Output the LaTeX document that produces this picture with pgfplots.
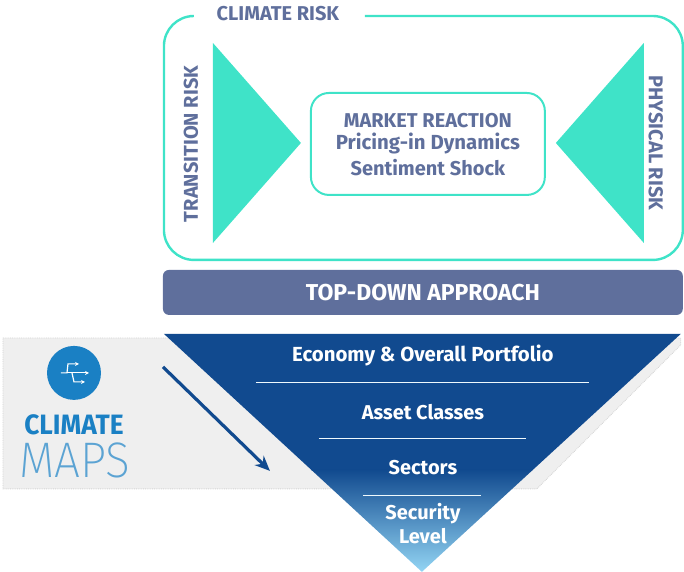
\documentclass[border=0pt]{standalone}
\usepackage{fontspec}
\setmainfont{Fira Sans}
\newfontfamily\lightf{Fira Sans ExtraLight}
\usepackage{pgfplots}
\pgfplotsset{compat=1.18}
\usetikzlibrary{arrows.meta}
\definecolor{teal1}{HTML}{3FE3C8}
\definecolor{slate}{HTML}{5F6F9C}
\definecolor{navy}{HTML}{114A8F}
\definecolor{band}{HTML}{EFEFEF}
\definecolor{bandedge}{HTML}{D4D4D4}
\definecolor{ball}{HTML}{1A80C4}
\definecolor{mapsc}{HTML}{5BA3D3}
\definecolor{lowtip}{HTML}{93D5F4}
\newcommand{\fs}[1]{\fontsize{#1}{#1}\selectfont}
\begin{document}
\begin{tikzpicture}
\begin{axis}[
    scale only axis,
    width=684pt,
    height=572pt,
    xmin=0, xmax=684,
    ymin=0, ymax=572,
    y dir=reverse,
    axis lines=none,
    clip=false,
    cycle list={{black}},
]
% keeps the page as large as the axis
\path (axis cs:0,0) rectangle (axis cs:684,572);
% climate risk frame, open at the title
\addplot[teal1, line width=2.4pt, rounded corners=30pt] coordinates {(365,16) (683,16) (683,260) (164,260) (164,16) (190,16)};
% triangles
\addplot[fill=teal1, draw=none] coordinates {(213,43) (301,143) (213,243) (213,43)};
\addplot[fill=teal1, draw=none] coordinates {(644,43) (556,143) (644,243) (644,43)};
% market reaction box
\addplot[teal1, line width=2pt, rounded corners=18pt] coordinates {(400,93) (545,93) (545,195) (311,195) (311,93) (400,93)};
% top-down bar
\addplot[fill=slate, draw=none, rounded corners=6pt] coordinates {(400,270) (683,270) (683,315) (163,315) (163,270) (400,270)};
% grey band behind the pyramid
\addplot[fill=band, draw=bandedge, line width=0.8pt, densely dotted] coordinates {(3,338) (681,338) (681,345) (537,489) (3,489) (3,338)};
% pyramid
\addplot[fill=navy, draw=none] coordinates {(164,334) (681,334) (531.9,471) (312.5,471) (164,334)};
\addplot[top color=navy, bottom color=lowtip, draw=none, shade] coordinates {(311.4,470) (533,470) (422,572) (311.4,470)};
% separators
\addplot[white!85!lowtip, line width=1.1pt] coordinates {(256,383) (589,383)};
\addplot[white!85!lowtip, line width=1.1pt] coordinates {(319,439) (526,439)};
\addplot[white!85!lowtip, line width=1.1pt] coordinates {(363,496) (481,496)};
% arrow
\addplot[navy, line width=3.2pt, -{Stealth[length=15pt,width=13pt]}] coordinates {(163,367) (270,471)};
% logo disc and icon
\addplot[ball, line width=54pt, line cap=round] coordinates {(74,373) (74,373.01)};
\addplot[white, line width=1.2pt, -{Stealth[length=4pt,width=4pt]}] coordinates {(61,373) (67,373) (68,364) (79,364)};
\addplot[white, line width=1.2pt, -{Stealth[length=4pt,width=4pt]}] coordinates {(67,373) (89,373)};
\addplot[white, line width=1.2pt, -{Stealth[length=4pt,width=4pt]}] coordinates {(72,373) (74,382) (85,382)};
% text
\node[text=slate, font=\fs{20}\bfseries] at (axis cs:278,14) {CLIMATE RISK};
\node[text=slate, font=\fs{20}\bfseries, rotate=90] at (axis cs:191,144) {TRANSITION RISK};
\node[text=slate, font=\fs{20}\bfseries, rotate=-90] at (axis cs:656,143) {PHYSICAL RISK};
\node[text=slate, font=\fs{20}\bfseries] at (axis cs:428,121) {MARKET REACTION};
\node[text=slate, font=\fs{20.4}\bfseries] at (axis cs:428,144) {Pricing-in Dynamics};
\node[text=slate, font=\fs{20}\bfseries] at (axis cs:428,168) {Sentiment Shock};
\node[text=white, font=\fs{23}\bfseries] at (axis cs:423,293) {TOP-DOWN APPROACH};
\node[text=white, font=\fs{20.4}\bfseries] at (axis cs:423,356) {Economy \& Overall Portfolio};
\node[text=white, font=\fs{20}\bfseries] at (axis cs:423,412) {Asset Classes};
\node[text=white, font=\fs{20}\bfseries] at (axis cs:423,468) {Sectors};
\node[text=white, font=\fs{20}\bfseries] at (axis cs:423,514) {Security};
\node[text=white, font=\fs{20}\bfseries] at (axis cs:423,536) {Level};
\node[text=ball, font=\fs{28}\bfseries, xscale=0.94] at (axis cs:74,425) {CLIMATE};
\node[text=mapsc, font=\fs{50}\lightf, xscale=0.92] at (axis cs:75,461) {MAPS};
\end{axis}
\end{tikzpicture}
\end{document}
